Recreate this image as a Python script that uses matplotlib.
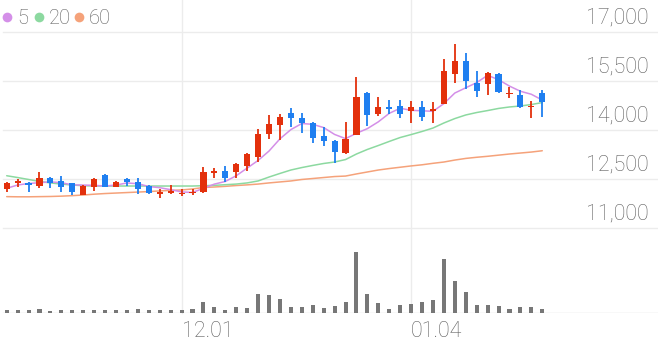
import matplotlib
matplotlib.use("Agg")
import matplotlib.pyplot as plt
from matplotlib.lines import Line2D
import numpy as np
import pandas as pd

# ---------------- data ----------------
opens  = [12180,12390,12390,12300,12530,12440,12370,12010,12260,12610,
          12270,12500,12420,12290,12056,12080,12035,12060,12100,12680,
          12745,12700,12910,13160,13870,14150,14510,14380,14220,13820,
          13670,13300,13850,15120,14490,14710,14720,14590,14710,14580,
          14800,15710,16120,15430,15410,15700,15100,15070,14690,15120]
highs  = [12420,12490,12400,12720,12550,12590,12390,12330,12530,12650,
          12450,12540,12520,12320,12200,12320,12190,12190,12860,12850,
          12900,12980,13290,14020,14460,14480,14660,14510,14250,14100,
          13690,14240,15630,15170,15000,14920,14920,14900,14900,14870,
          16170,16620,16370,15810,15770,15740,15330,15220,14890,15220]
lows   = [12090,12260,12090,12230,12220,12090,12020,12010,12140,12250,
          12250,12290,12030,12030,11930,12030,11980,12010,12070,12530,
          12420,12540,12750,13030,13720,13690,14080,13900,13590,13510,
          13000,13260,13850,14120,14430,14490,14360,14200,14290,14200,
          14800,15430,15250,15020,15070,15140,14970,14660,14360,14410]
closes = [12390,12440,12320,12540,12370,12260,12110,12290,12500,12260,
          12420,12420,12180,12070,12080,12120,12070,12100,12700,12730,
          12520,12950,13270,13870,14170,14390,14360,14200,13750,13670,
          13340,13720,15020,14460,14710,14640,14500,14700,14390,14630,
          15820,16120,15500,15190,15740,15150,15140,14710,14730,14850]
prior_closes = [11935, 12090, 12415, 12245]   # last 4 closes before the window (for MA5)

volumes = [2700,2700,2700,4000,2300,2700,2700,2700,2700,3300,
           2700,2700,3700,2700,2700,2700,2700,3700,11000,6300,
           3300,6000,5300,19300,18000,14300,5700,6000,8300,4700,
           7300,11300,61300,19300,9700,4300,7700,8700,10700,13300,
           53700,32300,21300,8000,8300,7000,4000,6300,6000,4300]

ma20 = [12600,12545,12485,12425,12380,12345,12315,12295,12285,12285,
        12285,12285,12285,12285,12285,12285,12285,12285,12295,12305,
        12325,12345,12380,12440,12560,12670,12775,12850,12915,12975,
        13020,13095,13265,13405,13525,13650,13770,13860,13955,14060,
        14215,14350,14460,14535,14595,14660,14705,14735,14780,14840]
ma60 = [11960,11955,11955,11960,11965,11975,11990,12010,12035,12055,
        12070,12085,12100,12115,12135,12150,12165,12195,12240,12255,
        12275,12300,12320,12345,12380,12410,12440,12485,12515,12545,
        12575,12590,12655,12715,12775,12820,12860,12900,12935,12980,
        13020,13080,13130,13165,13195,13230,13265,13295,13325,13365]

price_ticks = [11000, 12500, 14000, 15500, 17000]
date_tick_idx = [16, 37]
date_tick_labels = ["12.01", "01.04"]
legend_labels = ["5", "20", "60"]

# ---------------- styling ----------------
RED = "#e3300c"
BLUE = "#1f7ff0"
C5, C20, C60 = "#d48fe8", "#8cd9a0", "#f5a27a"
GRID = "#ececec"
TXT = "#5f5f5f"
FONT = "Roboto"

W, H = 658, 342
fig = plt.figure(figsize=(W / 100, H / 100), dpi=100)
fig.patch.set_facecolor("white")

n = len(closes)
idx = np.arange(n)
px_step = 10.93
x0_px = 6.7
xlim = (-x0_px / px_step, (W - x0_px) / px_step)

# price axes: pixel rows 0..230
y17, y11 = 32.0, 228.0
ppp = (17000 - 11000) / (y11 - y17)  # price per pixel
top_price = 17000 + y17 * ppp
bot_price = 17000 - (230 - y17) * ppp
axp = fig.add_axes([0, 1 - 230 / H, 1, 230 / H])
axp.set_xlim(*xlim)
axp.set_ylim(bot_price, top_price)
axp.axis("off")

# volume axes: pixel rows 233..313
axv = fig.add_axes([0, 1 - 313 / H, 1, 80 / H])
axv.set_xlim(*xlim)
axv.set_ylim(0, 80000)
axv.axis("off")

# horizontal grid + labels
for t in price_ticks:
    axp.axhline(t, xmin=3 / W, xmax=1, color=GRID, lw=1.0, zorder=0)
    axp.annotate(f"{t:,}", xy=(649 / W, t), xycoords=("axes fraction", "data"),
                 xytext=(0, 5.8), textcoords="offset points",
                 ha="right", va="baseline", fontsize=15.5, color=TXT,
                 family=FONT, fontweight="light")

# vertical grid lines (full height, across both panels)
for i in date_tick_idx:
    xf = (x0_px + px_step * i) / W
    fig.add_artist(Line2D([xf, xf], [1 - 313 / H, 1.0], transform=fig.transFigure,
                          color=GRID, lw=1.0, zorder=0))

# date labels
for i, lab in zip(date_tick_idx, date_tick_labels):
    axv.annotate(lab, xy=(i, 0), xycoords="data", xytext=(0, -17),
                 textcoords="offset points", ha="left", va="baseline",
                 fontsize=15.5, color=TXT, family=FONT, fontweight="light",
                 annotation_clip=False)

# volume baseline & bars
axv.axhline(0, xmin=3 / W, xmax=1, color="#dddddd", lw=1.0, zorder=1)
axv.bar(idx, volumes, width=0.37, color="#777777", zorder=2)

# moving averages
ma5 = pd.Series(prior_closes + closes).rolling(5).mean().to_numpy()[len(prior_closes):]
axp.plot(idx, ma60, color=C60, lw=1.1, zorder=2, solid_capstyle="round")
axp.plot(idx, ma20, color=C20, lw=1.1, zorder=2, solid_capstyle="round")
axp.plot(idx, ma5, color=C5, lw=1.1, zorder=3, solid_capstyle="round")

# candles
o = np.array(opens, float); c = np.array(closes, float)
h = np.array(highs, float); l = np.array(lows, float)
up = c >= o
cols = np.where(up, RED, BLUE)
axp.vlines(idx, l, h, colors=cols, lw=1.3, zorder=4)
body_lo = np.minimum(o, c)
body_h = np.maximum(np.abs(c - o), 40)
axp.bar(idx, body_h, bottom=body_lo, width=0.56, color=cols, zorder=5, linewidth=0)

# legend (top-left)
items = [(7, C5, legend_labels[0], 17), (39, C20, legend_labels[1], 49), (79, C60, legend_labels[2], 89)]
for (cx, colr, lab, tx) in items:
    fig.add_artist(Line2D([cx / W], [1 - 17 / H], marker="o", markersize=7,
                          color=colr, markeredgewidth=0, transform=fig.transFigure))
    fig.text(tx / W, 1 - 23.5 / H, lab, ha="left", va="baseline", fontsize=14.5,
             color=TXT, family=FONT, fontweight="light")

fig.savefig("out.png", dpi=100)
